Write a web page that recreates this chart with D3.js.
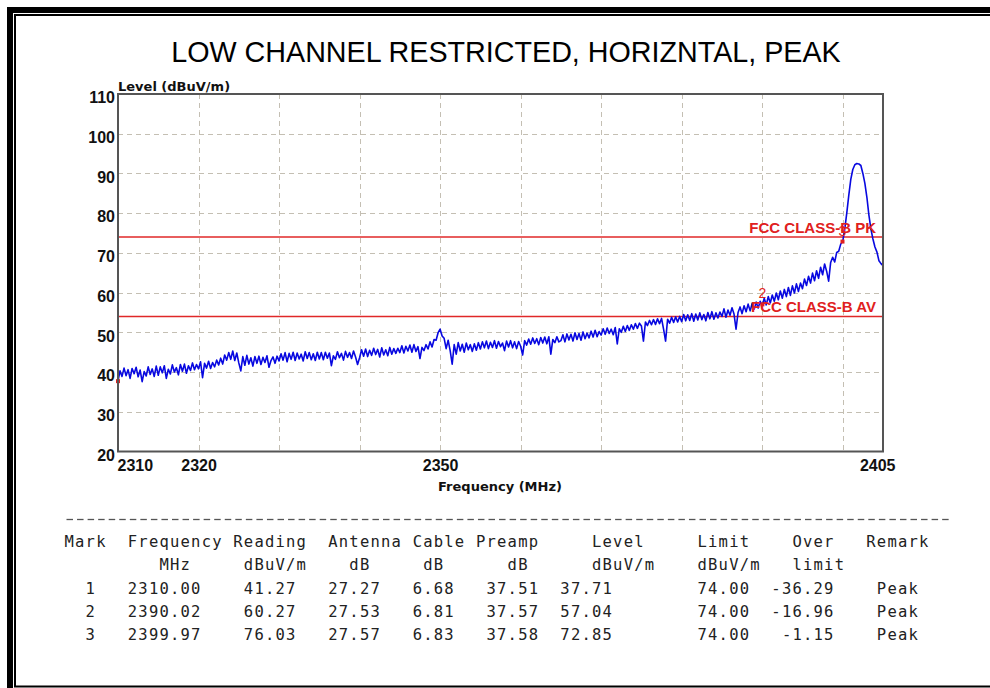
<!DOCTYPE html>
<html>
<head>
<meta charset="utf-8">
<script src="https://cdn.jsdelivr.net/npm/d3@7"></script>
<style>
  html, body { margin: 0; padding: 0; background: #fff; }
  svg { display: block; }
</style>
</head>
<body>
<svg id="chart" width="990" height="688"></svg>
<script>
// ---- chart data ----
const titleText = "LOW CHANNEL RESTRICTED, HORIZNTAL, PEAK";
const yTickValues = [20, 30, 40, 50, 60, 70, 80, 90, 100, 110];
const xLabelValues = [2310, 2320, 2350, 2405];
const xGridValues = [2320, 2330, 2340, 2350, 2360, 2370, 2380, 2390, 2400];
const limitNames = ["FCC CLASS-B PK", "FCC CLASS-B AV"];
const limitLevels = [74, 54];

// sweep: 2310 MHz to 2405 MHz, one reading every 0.25 MHz (dBuV/m)
const sweepStart = 2310;
const sweepStep = 0.25;
const sweepLevels = [
  37.7, 40.3, 38.9, 41.0, 39.1, 40.6, 38.4, 40.9, 39.6, 41.2, 38.8, 40.5, 37.6, 40.1, 39.0, 41.3, 39.4, 40.8, 38.9, 41.5,
  39.2, 41.3, 39.8, 41.6, 38.4, 40.7, 39.5, 41.8, 40.0, 41.1, 39.3, 41.9, 40.2, 42.0, 39.7, 41.6, 40.4, 42.3, 40.6, 41.9,
  40.8, 42.6, 38.6, 42.2, 41.0, 42.7, 40.9, 42.4, 41.3, 43.0, 41.8, 43.5, 42.0, 44.3, 43.0, 44.9, 43.2, 45.3, 42.9, 44.8,
  42.3, 40.3, 43.9, 41.7, 44.2, 42.0, 43.6, 41.5, 43.9, 42.2, 44.0, 41.9, 43.7, 42.4, 44.1, 41.2, 42.9, 43.8, 42.2, 44.0,
  42.8, 44.6, 43.0, 44.9, 42.6, 44.7, 43.2, 45.0, 42.9, 44.8, 43.3, 44.5, 42.8, 45.1, 43.4, 44.9, 43.1, 44.6, 42.9, 45.0,
  43.3, 44.9, 43.1, 45.0, 43.5, 44.8, 41.6, 44.1, 43.2, 45.1, 43.6, 44.7, 43.0, 45.2, 43.7, 44.9, 43.4, 45.3, 43.8, 41.9,
  43.6, 45.6, 44.0, 45.8, 43.9, 45.5, 44.2, 46.0, 44.4, 45.7, 43.8, 46.1, 44.3, 45.6, 44.1, 46.2, 44.5, 45.9, 44.7, 46.0,
  44.9, 46.6, 44.8, 46.5, 45.3, 46.8, 45.0, 46.9, 45.2, 46.4, 43.4, 46.2, 45.4, 46.9, 45.8, 47.6, 46.3, 48.2, 48.0, 49.9,
  50.8, 49.1, 48.5, 45.9, 48.0, 45.4, 42.0, 46.9, 44.5, 47.4, 45.3, 47.0, 45.0, 47.3, 45.6, 46.9, 45.2, 47.1, 45.5, 47.4,
  45.8, 47.6, 46.1, 47.8, 45.9, 47.5, 46.2, 47.9, 46.0, 47.7, 46.4, 47.3, 45.4, 47.8, 46.3, 47.9, 46.1, 47.6, 45.9, 47.7,
  46.5, 44.3, 47.9, 46.8, 48.3, 47.0, 48.6, 47.2, 48.4, 46.9, 48.7, 47.3, 48.8, 47.1, 48.9, 44.5, 48.2, 47.4, 48.9, 47.6,
  47.9, 49.4, 47.6, 49.6, 48.1, 49.5, 47.8, 49.9, 48.2, 49.7, 48.0, 50.1, 48.4, 49.8, 48.6, 50.3, 48.8, 50.5, 48.9, 50.2,
  49.3, 50.9, 49.5, 51.1, 49.7, 50.8, 49.4, 51.2, 47.1, 50.9, 50.0, 51.5, 50.2, 51.7, 50.5, 51.9, 50.8, 52.2, 51.0, 52.3,
  51.6, 47.8, 52.6, 51.7, 53.0, 51.9, 53.2, 52.0, 53.4, 52.2, 53.5, 50.8, 47.8, 53.3, 52.3, 53.8, 52.5, 53.9, 52.6, 54.0,
  52.7, 54.5, 52.9, 54.4, 53.0, 54.7, 52.8, 54.6, 53.1, 54.9, 53.2, 54.5, 52.9, 55.0, 53.4, 55.2, 53.3, 54.9, 53.6, 55.1,
  54.0, 55.9, 53.8, 55.6, 54.3, 56.2, 54.6, 50.8, 55.0, 56.4, 54.7, 56.7, 55.2, 57.1, 55.4, 57.3, 55.8, 57.6, 56.1, 57.8,
  56.6, 58.6, 56.9, 59.0, 57.4, 59.4, 57.8, 59.9, 58.2, 60.4, 58.6, 60.8, 59.0, 61.3, 59.3, 61.7, 59.9, 62.2, 60.3, 62.4,
  61.0, 63.4, 61.8, 64.1, 62.4, 64.9, 63.0, 65.5, 63.6, 66.4, 64.5, 67.2, 65.4, 62.9, 67.6, 68.9, 67.7, 70.1, 70.4, 72.2,
  72.9, 76.0, 80.0, 84.5, 88.5, 91.0, 92.2, 92.5, 92.4, 92.0, 90.0, 87.5, 84.0, 79.5, 76.0, 73.5, 71.5, 70.2, 68.0, 67.3,
  66.8
];

// marker table
const markNo = [1, 2, 3];
const markFreq = [2310.00, 2390.02, 2399.97];
const markReading = [41.27, 60.27, 76.03];
const markAntenna = [27.27, 27.53, 27.57];
const markCable = [6.68, 6.81, 6.83];
const markPreamp = [37.51, 37.57, 37.58];
const markLevel = [37.71, 57.04, 72.85];
const markLimit = [74.00, 74.00, 74.00];
const markOver = [-36.29, -16.96, -1.15];
const markRemark = ["Peak", "Peak", "Peak"];

// ---- drawing ----
const svg = d3.select("#chart");
const SANS = "'Liberation Sans', Arial, sans-serif";
const WIDE = "'DejaVu Sans', Verdana, sans-serif";
const MONO = "'DejaVu Sans Mono', 'Liberation Mono', monospace";

// page frame: heavy outer rule plus a thin inner rule
svg.append("path").attr("d", "M10,688V10H990").attr("fill", "none")
  .attr("stroke", "#000").attr("stroke-width", 6);
svg.append("path").attr("d", "M15,686V15H990").attr("fill", "none")
  .attr("stroke", "#000").attr("stroke-width", 2);
svg.append("line").attr("x1", 14).attr("x2", 990).attr("y1", 686.5).attr("y2", 686.5)
  .attr("stroke", "#000").attr("stroke-width", 2);

// title
svg.append("text").attr("x", 506).attr("y", 62).attr("text-anchor", "middle")
  .attr("font-family", SANS).attr("font-size", 28.7).attr("fill", "#000")
  .text(titleText);

const x = d3.scaleLinear().domain([2310, 2405]).range([118, 883]);
const y = d3.scaleLinear().domain([20, 110]).range([451.5, 94]);

const g = svg.append("g");

// grid
const gridStyle = sel => sel.attr("stroke", "#c4bfb3").attr("stroke-width", 1)
  .attr("stroke-dasharray", "5,4");
g.selectAll("line.hgrid").data(yTickValues.filter(v => v > 20 && v < 110)).join("line")
  .attr("class", "hgrid")
  .attr("x1", x.range()[0]).attr("x2", x.range()[1])
  .attr("y1", d => Math.round(y(d)) + 0.5).attr("y2", d => Math.round(y(d)) + 0.5)
  .call(gridStyle);
g.selectAll("line.vgrid").data(xGridValues).join("line")
  .attr("class", "vgrid")
  .attr("y1", y.range()[1]).attr("y2", y.range()[0])
  .attr("x1", d => Math.round(x(d)) + 0.5).attr("x2", d => Math.round(x(d)) + 0.5)
  .call(gridStyle);

// limit lines
g.selectAll("line.limit").data(limitLevels).join("line")
  .attr("class", "limit")
  .attr("x1", x.range()[0]).attr("x2", x.range()[1])
  .attr("y1", d => y(d)).attr("y2", d => y(d))
  .attr("stroke", "#e02828").attr("stroke-width", 1.5);

// measured trace
const sweep = sweepLevels.map((v, i) => ({ f: sweepStart + i * sweepStep, v }));
g.append("path").datum(sweep)
  .attr("fill", "none").attr("stroke", "#0808e0").attr("stroke-width", 1.6)
  .attr("stroke-linejoin", "round")
  .attr("d", d3.line().x(d => x(d.f)).y(d => y(d.v)));

// marker points and numbers
const marks = markNo.map((n, i) => ({ n, f: markFreq[i], v: markLevel[i] }));
g.selectAll("rect.mark").data(marks).join("rect")
  .attr("class", "mark")
  .attr("x", d => x(d.f) - 2).attr("y", d => y(d.v) - 2)
  .attr("width", 4).attr("height", 4).attr("fill", "#e02020");
g.selectAll("text.markno").data(marks.filter(d => d.f > x.domain()[0])).join("text")
  .attr("class", "markno")
  .attr("x", d => x(d.f)).attr("y", d => y(d.v) - 6)
  .attr("text-anchor", "middle").attr("font-family", SANS).attr("font-size", 14)
  .attr("fill", "#e02020").text(d => d.n);

// limit names
g.selectAll("text.limitname").data(limitLevels).join("text")
  .attr("class", "limitname")
  .attr("x", 876).attr("y", d => y(d) - 4.5)
  .attr("text-anchor", "end").attr("font-family", SANS).attr("font-weight", "bold")
  .attr("font-size", 15).attr("fill", "#e02020")
  .text((d, i) => limitNames[i]);

// plot frame
g.append("rect")
  .attr("x", x.range()[0]).attr("y", y.range()[1])
  .attr("width", x.range()[1] - x.range()[0]).attr("height", y.range()[0] - y.range()[1])
  .attr("fill", "none").attr("stroke", "#555").attr("stroke-width", 2);

// y axis labels
const yAxis = d3.axisLeft(y).tickValues(yTickValues).tickSize(0).tickPadding(3);
const ya = svg.append("g").attr("transform", `translate(${x.range()[0]},0)`).call(yAxis);
ya.select(".domain").remove();
ya.selectAll("text").attr("font-family", SANS).attr("font-weight", "bold")
  .attr("font-size", 16).attr("fill", "#111").attr("dy", "0.55em");

// x axis labels
const xAxis = d3.axisBottom(x).tickValues(xLabelValues).tickSize(0).tickPadding(6)
  .tickFormat(d3.format("d"));
const xa = svg.append("g").attr("transform", `translate(0,${y.range()[0]})`).call(xAxis);
xa.select(".domain").remove();
xa.selectAll("text").attr("font-family", SANS).attr("font-weight", "bold")
  .attr("font-size", 16).attr("fill", "#111").attr("dy", "0.85em");
xa.selectAll(".tick").filter(d => d === x.domain()[0]).select("text")
  .attr("text-anchor", "start").attr("dx", -1);
xa.selectAll(".tick").filter(d => d === x.domain()[1]).select("text")
  .attr("text-anchor", "end").attr("dx", 12);

// axis titles
svg.append("text").attr("x", 118).attr("y", 90.5)
  .attr("font-family", WIDE).attr("font-weight", "bold").attr("font-size", 13)
  .attr("fill", "#111").text("Level (dBuV/m)");
svg.append("text").attr("x", 500).attr("y", 490.5).attr("text-anchor", "middle")
  .attr("font-family", WIDE).attr("font-weight", "bold").attr("font-size", 13)
  .attr("fill", "#111").text("Frequency (MHz)");

// ---- marker table ----
const CW = 10.55, X0 = 64.5, FS = 15.5;
const table = svg.append("g").attr("font-family", MONO).attr("font-size", FS)
  .attr("fill", "#222").attr("letter-spacing", (CW - FS * 0.602).toFixed(2));

// separator rule made of dashes
const nDash = 84;
table.selectAll("line.sep").data(d3.range(nDash)).join("line")
  .attr("class", "sep")
  .attr("x1", d => X0 + d * CW + 2).attr("x2", d => X0 + d * CW + 8.5)
  .attr("y1", 519.5).attr("y2", 519.5)
  .attr("stroke", "#555").attr("stroke-width", 1.3);

const cell = (text, col, yy) => table.append("text")
  .attr("x", X0 + col * CW).attr("y", yy).text(text);

const head1 = [["Mark", 0], ["Frequency", 6], ["Reading", 16], ["Antenna", 25], ["Cable", 33],
  ["Preamp", 39], ["Level", 50], ["Limit", 60], ["Over", 69], ["Remark", 76]];
const head2 = [["MHz", 9], ["dBuV/m", 17], ["dB", 27], ["dB", 34], ["dB", 42], ["dBuV/m", 50],
  ["dBuV/m", 60], ["limit", 69]];
head1.forEach(([t, c]) => cell(t, c, 547));
head2.forEach(([t, c]) => cell(t, c, 570));

const rowY = [594, 617, 640];
const f2 = v => v.toFixed(2);
markNo.forEach((n, i) => {
  const yy = rowY[i];
  cell(String(n), 2, yy);
  cell(f2(markFreq[i]), 6, yy);
  cell(f2(markReading[i]), 17, yy);
  cell(f2(markAntenna[i]), 25, yy);
  cell(f2(markCable[i]), 33, yy);
  cell(f2(markPreamp[i]), 40, yy);
  cell(f2(markLevel[i]), 47, yy);
  cell(f2(markLimit[i]), 60, yy);
  const ov = f2(markOver[i]);
  cell(ov, 73 - ov.length, yy);
  cell(markRemark[i], 77, yy);
});
</script>
</body>
</html>
